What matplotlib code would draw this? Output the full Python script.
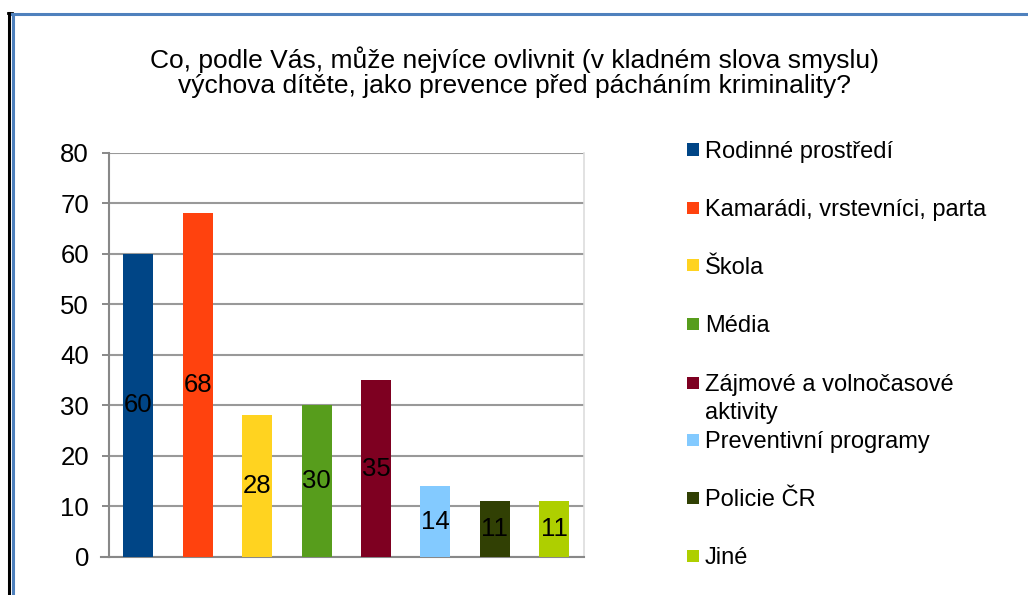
import matplotlib
matplotlib.use('Agg')
import matplotlib.pyplot as plt
from matplotlib.patches import Rectangle
from matplotlib.lines import Line2D

plt.rcParams['font.family'] = ['Liberation Sans', 'DejaVu Sans']

# Data
kategorie = ['Rodinné prostředí', 'Kamarádi, vrstevníci, parta', 'Škola', 'Média',
             'Zájmové a volnočasové\naktivity', 'Preventivní programy', 'Policie ČR', 'Jiné']
hodnoty = [60, 68, 28, 30, 35, 14, 11, 11]
barvy = ['#004586', '#ff420e', '#ffd320', '#579d1c', '#7e0021', '#83caff', '#314004', '#aecf00']
y_ticks = [0, 10, 20, 30, 40, 50, 60, 70, 80]

titulek = ('Co, podle Vás, může nejvíce ovlivnit (v kladném slova smyslu)\n'
           'výchova dítěte, jako prevence před pácháním kriminality?')

W, H = 1028, 595
fig = plt.figure(figsize=(W / 100, H / 100), dpi=100)

# Ramecek kolem grafu
fig.add_artist(Line2D([8.5 / W, 8.5 / W], [0, 1 - 13 / H], color='black', lw=2.2))
fig.add_artist(Line2D([8 / W, 12 / W], [1 - 13 / H, 1 - 13 / H], color='black', lw=2))
fig.add_artist(Line2D([12.5 / W, 12.5 / W], [0, 1 - 13.5 / H], color='#4f81bd', lw=2.2))
fig.add_artist(Line2D([12 / W, 1], [1 - 13.5 / H, 1 - 13.5 / H], color='#4f81bd', lw=2.2))

ax = fig.add_axes([108.5 / W, 1 - 557 / H, (584 - 108.5) / W, (557 - 152.7) / H])

x = range(len(hodnoty))
bars = ax.bar(x, hodnoty, width=0.505, color=barvy, zorder=3)

# Popisky hodnot uprostred sloupcu
for i, v in enumerate(hodnoty):
    ax.text(i, v / 2, str(v), ha='center', va='center', fontsize=18.5, color='black', zorder=4)

ax.set_xlim(-0.5, len(hodnoty) - 0.5)
ax.set_ylim(0, 80)
ax.set_yticks(y_ticks)
ax.set_xticks([])
ax.tick_params(axis='y', length=5, width=1.4, color='#888888', pad=9, labelsize=18.5)
ax.yaxis.grid(True, color='#999999', lw=1.5, zorder=0)

ax.spines['top'].set_visible(False)
ax.spines['right'].set_color('#dddddd')
ax.spines['right'].set_linewidth(1.2)
for s in ['left', 'bottom']:
    ax.spines[s].set_color('#888888')
    ax.spines[s].set_linewidth(1.5)

# spodni osa ma presah jako ticky
ax.plot([-0.5 - 7 / 59.4, -0.5], [0, 0], color='#888888', lw=1.5, clip_on=False, zorder=5)

fig.text(515 / W, 1 - 72 / H, titulek, ha='center', va='center', fontsize=19, linespacing=1.03)

# Legenda
for i, (lab, c) in enumerate(zip(kategorie, barvy)):
    yc = 149.5 + 58 * i
    if i == 4:
        yc = 383
    fig.add_artist(Rectangle((687 / W, 1 - (yc + 6) / H), 12 / W, 12 / H,
                             facecolor=c, edgecolor='none', transform=fig.transFigure))
    for k, radek in enumerate(lab.split('\n')):
        fig.text(705 / W, 1 - (yc + 8.5 + 28 * k) / H, radek, ha='left', va='baseline', fontsize=17)

fig.savefig('out.png', dpi=100)
